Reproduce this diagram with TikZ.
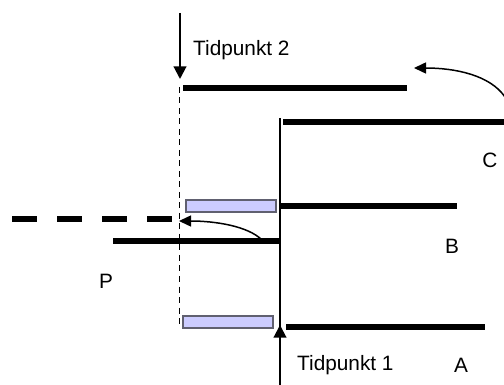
\documentclass[tikz,border=0pt]{standalone}
\usepackage{fontspec}
\setmainfont{Liberation Sans}
\usetikzlibrary{arrows.meta}
\definecolor{boxfill}{HTML}{CCCCFF}
\definecolor{boxline}{HTML}{606070}
\tikzset{
  bar/.style={line width=5.5pt},
  thinline/.style={line width=2pt},
  tri/.style={-{Triangle[width=12.5pt,length=12.5pt]}},
  smalltri/.style={-{Triangle[width=11pt,length=12pt]}},
  lbl/.style={inner sep=0pt, font=\fontsize{20.8}{24}\selectfont},
  bluebox/.style={draw=boxline, fill=boxfill, line width=1.4pt}
}
\begin{document}
\begin{tikzpicture}[x=1pt,y=-1pt]
\useasboundingbox (0,0) rectangle (504,385);
% coordinates
\coordinate (t2top) at (180,13);
\coordinate (t2tip) at (180,79);
\coordinate (dtop) at (179.5,87);
\coordinate (dbot) at (179.5,327);
\coordinate (vtop) at (280,118);
\coordinate (vbot) at (280,385);
\coordinate (t1tip) at (280,325);
% Tidpunkt 2 arrow
\draw[thinline,tri] (t2top) -- (t2tip);
\node[lbl, anchor=west] (t2) at (193,50) {Tidpunkt 2};
% dashed vertical
\draw[line width=1.8pt, dash pattern=on 6pt off 4.5pt] (dtop) -- (dbot);
% solid vertical
\draw[thinline] (vtop) -- (vbot);
\draw[thinline,tri] (vbot) -- (t1tip);
\node[lbl, anchor=west] (t1) at (297,365) {Tidpunkt 1};
% bars
\coordinate (c2a) at (183,88); \coordinate (c2b) at (407,88);
\draw[bar] (c2a) -- (c2b);
\coordinate (ca) at (283,122); \coordinate (cb) at (504,122);
\draw[bar] (ca) -- (cb);
\coordinate (ba) at (281,206); \coordinate (bb) at (457,206);
\draw[bar] (ba) -- (bb);
\coordinate (pa) at (113,241); \coordinate (pb) at (280,241);
\draw[bar] (pa) -- (pb);
\coordinate (aa) at (286,327); \coordinate (ab) at (485,327);
\draw[bar] (aa) -- (ab);
% thick dashed
\coordinate (da) at (12,219); \coordinate (db) at (172,219);
\draw[line width=6pt, dash pattern=on 25pt off 20pt] (da) -- (db);
% blue boxes
\node[bluebox, minimum width=90pt, minimum height=12pt, inner sep=0pt] (box1) at (231,206) {};
\node[bluebox, minimum width=90pt, minimum height=12pt, inner sep=0pt] (box2) at (228,322) {};
% curved arrows
\coordinate (cs) at (505,97); \coordinate (ce) at (414,68);
\draw[line width=1.5pt, smalltri] (cs) .. controls (490,75) and (455,68) .. (ce);
\coordinate (ps) at (262,240); \coordinate (pe) at (179,221);
\draw[line width=1.5pt, smalltri] (ps) .. controls (248,226) and (215,221) .. (pe);
% labels
\node[lbl] (C) at (490,160) {C};
\node[lbl] (B) at (452,246) {B};
\node[lbl] (P) at (106,281) {P};
\node[lbl] (A) at (461,365) {A};
\end{tikzpicture}
\end{document}
